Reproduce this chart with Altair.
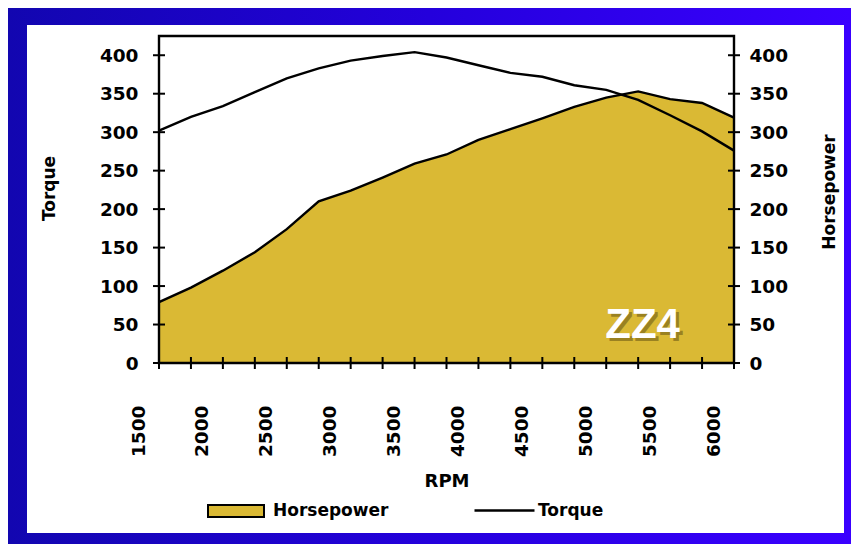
import altair as alt
import pandas as pd

# ---- data ----
rpm = [1500, 1750, 2000, 2250, 2500, 2750, 3000, 3250, 3500, 3750,
       4000, 4250, 4500, 4750, 5000, 5250, 5500, 5750, 6000]
horsepower = [79, 98, 120, 144, 174, 210, 224, 241, 259, 271,
              290, 304, 318, 333, 345, 353, 343, 338, 319]
torque = [302, 320, 334, 352, 370, 383, 393, 399, 404, 397,
          387, 377, 372, 361, 355, 342, 322, 301, 276]

x_label_values = [1500, 2000, 2500, 3000, 3500, 4000, 4500, 5000, 5500, 6000]
x_tick_values = rpm
y_tick_values = [0, 50, 100, 150, 200, 250, 300, 350, 400]
x_domain = [1500, 6000]
y_domain = [0, 425]
annotation = {"rpm": [5285], "v": [33], "label": ["ZZ4"]}

GOLD = "#DAB934"
FONT = "DejaVu Sans"
LW = 2.4

df = pd.DataFrame({"rpm": rpm, "hp": horsepower, "torque": torque})
df["s_hp"] = "Horsepower"
df["s_tq"] = "Torque"

ysc = alt.Scale(domain=y_domain, nice=False, zero=True)

x_axis = alt.Axis(
    values=x_label_values, format="d", labelAngle=-90, labelOffset=-21,
    labelPadding=42, ticks=False, tickSize=0, domain=False, grid=False,
    labelFlush=False, labelOverlap=False,
    labelFont=FONT, labelFontSize=18.5, labelFontWeight="bold", labelColor="black",
    title="RPM", titleFont=FONT, titleFontSize=18, titleFontWeight="bold",
    titleColor="black", titleX=287.5, titleY=123, titleAlign="center",
    titleBaseline="alphabetic", zindex=1)

def xenc(field="rpm"):
    return alt.X(f"{field}:Q", scale=alt.Scale(domain=x_domain, nice=False, zero=False),
                 axis=x_axis)

common_y = dict(values=y_tick_values, format="d", ticks=False, tickSize=0, domain=False,
                grid=False, labelFont=FONT, labelFontSize=18.5, labelFontWeight="bold",
                labelColor="black", labelFlush=False, labelOverlap=False,
                titleFont=FONT, titleFontSize=17, titleFontWeight="bold", titleColor="black",
                titleAngle=-90, titleAlign="center", titleBaseline="alphabetic", zindex=1)

tq_axis = alt.Axis(orient="left", labelPadding=21, title="Torque",
                   titleX=-104.5, titleY=152, **common_y)
hp_axis = alt.Axis(orient="right", labelPadding=15, title="Horsepower",
                   titleX=100.5, titleY=155.5, **common_y)

leg_common = dict(orient="none", title=None, padding=0, labelFont=FONT, labelFontSize=17,
                  labelFontWeight="bold", labelColor="black")
hp_legend = alt.Legend(legendX=48, legendY=446,
                       symbolType="M-1,-0.214L1,-0.214L1,0.214L-1,0.214Z",
                       symbolSize=3136, symbolStrokeColor="black", symbolStrokeWidth=2,
                       symbolOpacity=1, labelOffset=8, **leg_common)
tq_legend = alt.Legend(legendX=314, legendY=443, symbolType="stroke", symbolSize=3600,
                       symbolStrokeWidth=2.4, labelOffset=2, **leg_common)

one = pd.DataFrame({"a": [0]})

gradient = alt.LinearGradient(
    gradient="linear",
    stops=[alt.GradientStop(offset=0, color="#1206B0"),
           alt.GradientStop(offset=0.5, color="#2400DC"),
           alt.GradientStop(offset=1, color="#3A00FF")],
    x1=0, x2=1, y1=0, y2=0)

bg = alt.Chart(one).mark_rect(color=gradient).encode(
    x=alt.value(-151), x2=alt.value(692), y=alt.value(-28), y2=alt.value(508))
panel = alt.Chart(one).mark_rect(color="white").encode(
    x=alt.value(-132), x2=alt.value(685), y=alt.value(-11), y2=alt.value(497))

base = alt.Chart(df)

area = base.mark_area(opacity=1, interpolate="linear").encode(
    x=xenc(),
    y=alt.Y("hp:Q", scale=ysc, axis=hp_axis),
    fill=alt.Fill("s_hp:N", scale=alt.Scale(domain=["Horsepower"], range=[GOLD]),
                  legend=hp_legend))

hp_line = base.mark_line(color="black", strokeWidth=LW).encode(
    x=xenc(), y=alt.Y("hp:Q", scale=ysc, axis=None))

tq_line = base.mark_line(strokeWidth=LW).encode(
    x=xenc(),
    y=alt.Y("torque:Q", scale=ysc, axis=tq_axis),
    stroke=alt.Stroke("s_tq:N", scale=alt.Scale(domain=["Torque"], range=["black"]),
                      legend=tq_legend))

ann = pd.DataFrame(annotation)
zz_shadow = alt.Chart(ann).mark_text(
    font="Liberation Sans", fontSize=42, fontWeight="bold", color="#5c4a10",
    opacity=0.5, dx=3, dy=3, align="center", baseline="alphabetic").encode(
    x=xenc(), y=alt.Y("v:Q", scale=ysc, axis=None), text="label:N")
zz = alt.Chart(ann).mark_text(
    font="Liberation Sans", fontSize=42, fontWeight="bold", color="white",
    align="center", baseline="alphabetic").encode(
    x=xenc(), y=alt.Y("v:Q", scale=ysc, axis=None), text="label:N")

frame_df = pd.DataFrame({"rpm": [x_domain[0]], "rpm2": [x_domain[1]],
                         "v": [y_domain[0]], "v2": [y_domain[1]]})
frame = alt.Chart(frame_df).mark_rect(filled=False, stroke="black", strokeWidth=LW).encode(
    x=xenc(), x2="rpm2:Q", y=alt.Y("v:Q", scale=ysc, axis=None), y2="v2:Q")

xt_df = pd.DataFrame({"rpm": x_tick_values, "v": [0] * len(x_tick_values)})
xticks = alt.Chart(xt_df).mark_tick(orient="vertical", size=12, thickness=2,
                                    color="black", opacity=1).encode(
    x=xenc(), y=alt.Y("v:Q", scale=ysc, axis=None))

yt_df = pd.DataFrame({"rpm": [x_domain[0]] * len(y_tick_values) + [x_domain[1]] * len(y_tick_values),
                      "v": y_tick_values * 2})
yticks = alt.Chart(yt_df).mark_tick(orient="horizontal", size=12, thickness=2,
                                    color="black", opacity=1).encode(
    x=xenc(), y=alt.Y("v:Q", scale=ysc, axis=None))

chart = alt.layer(
    bg, panel, area, hp_line, tq_line, zz_shadow, zz, frame, xticks, yticks
).resolve_scale(y="independent").properties(
    width=575, height=327, padding=0
).configure_view(stroke=None)

chart.save("out.html", embed_options={"renderer": "svg", "actions": False})
